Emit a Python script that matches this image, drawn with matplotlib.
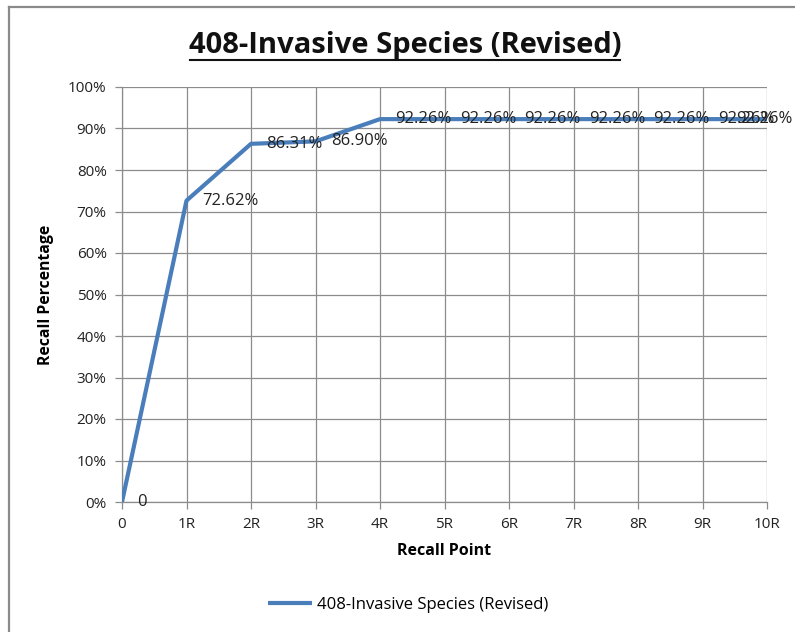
import matplotlib.pyplot as plt
from matplotlib.ticker import PercentFormatter

categories = ["0", "1R", "2R", "3R", "4R", "5R", "6R", "7R", "8R", "9R", "10R"]
recall = [0, 72.62, 86.31, 86.90, 92.26, 92.26, 92.26, 92.26, 92.26, 92.26, 92.26]
point_labels = ["0", "72.62%", "86.31%", "86.90%", "92.26%", "92.26%", "92.26%",
                "92.26%", "92.26%", "92.26%", "92.26%"]
series_name = "408-Invasive Species (Revised)"

font = ["Open Sans", "DejaVu Sans"]
line_color = "#4A7EBB"
grid_color = "#8C8C8C"

fig = plt.figure(figsize=(7.95, 6.32), dpi=100, facecolor="white")
ax = fig.add_axes([122 / 795, 1 - 502 / 632, 645 / 795, 415 / 632])

# outer chart border (top and left visible)
fig.add_artist(plt.Line2D([8.5 / 795, 8.5 / 795], [0, 1 - 6.5 / 632],
                          color="#8a8a8a", lw=1.6, transform=fig.transFigure))
fig.add_artist(plt.Line2D([8.5 / 795, 1], [1 - 6.5 / 632, 1 - 6.5 / 632],
                          color="#8a8a8a", lw=1.6, transform=fig.transFigure))

x = list(range(len(categories)))
line, = ax.plot(x, recall, color=line_color, lw=3, solid_capstyle="butt",
                label=series_name, zorder=3)

for i, (xi, yi, lab) in enumerate(zip(x, recall, point_labels)):
    # last label is pushed back inside the chart, overlapping its neighbour
    dx = -22 if i == len(x) - 1 else 11
    ax.annotate(lab, (xi, yi), xytext=(dx, 0), textcoords="offset points",
                ha="left", va="center", fontsize=12, family=font,
                color="#222222", annotation_clip=False, zorder=4)

ax.set_xlim(0, 10)
ax.set_ylim(0, 100)
ax.set_xticks(x)
ax.set_xticklabels(categories)
ax.set_yticks(range(0, 101, 10))
ax.yaxis.set_major_formatter(PercentFormatter(decimals=0))
ax.grid(True, color=grid_color, lw=0.9)
ax.set_axisbelow(True)
for side in ["top", "right"]:
    ax.spines[side].set_visible(False)
for side in ["left", "bottom"]:
    ax.spines[side].set_color(grid_color)
    ax.spines[side].set_linewidth(0.9)
ax.tick_params(axis="both", color=grid_color, length=5, width=0.9,
               labelsize=11, labelcolor="#222222")
ax.tick_params(axis="x", pad=6)
ax.tick_params(axis="y", pad=6)
for t in ax.get_xticklabels() + ax.get_yticklabels():
    t.set_family(font)

ax.set_xlabel("Recall Point", fontsize=11.5, fontweight="bold", family=font, labelpad=8)
ax.set_ylabel("Recall Percentage", fontsize=11.3, fontweight="bold", family=font, labelpad=10)

fig.text(405 / 795, 1 - 45 / 632, series_name, ha="center", va="center",
         fontsize=21, fontweight="bold", family=font, color="#111111")
# underline the title
fig.add_artist(plt.Line2D([190 / 795, 620 / 795], [1 - 60 / 632, 1 - 60 / 632],
                          color="#111111", lw=1.5, transform=fig.transFigure))

fig.legend(handles=[line], loc="center", bbox_to_anchor=(408 / 795, 1 - 605 / 632),
           frameon=False, handlelength=2.6, handletextpad=0.3,
           prop={"family": font, "size": 12})

fig.savefig("out.png", dpi=100, facecolor="white")
